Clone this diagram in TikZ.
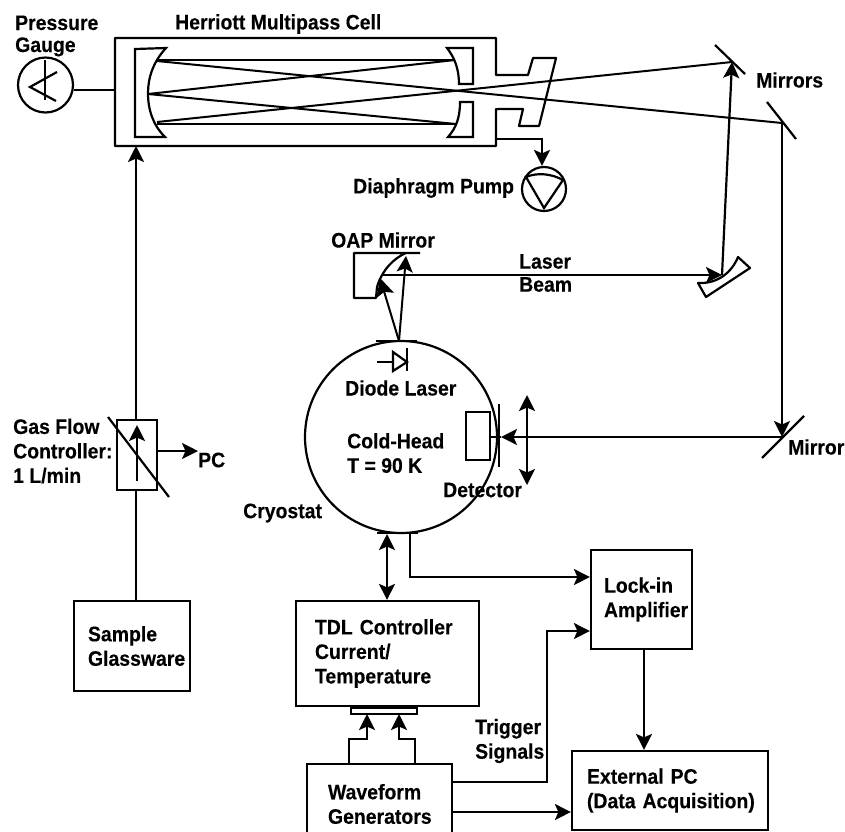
\documentclass[tikz,border=0pt]{standalone}
\usepackage{fontspec}
\setmainfont{Liberation Sans}[BoldFont={Liberation Sans Bold},FakeStretch=0.925,FakeBold=0.25]
\usetikzlibrary{arrows.meta,calc}
\tikzset{
  ln/.style={line width=2.2pt,line join=miter},
  beam/.style={line width=2pt},
  arr/.style={ln,-{Stealth[length=16pt,width=16pt,inset=3.5pt]}},
  darr/.style={ln,{Stealth[length=16pt,width=16pt,inset=3.5pt]}-{Stealth[length=16pt,width=16pt,inset=3.5pt]}},
  lab/.style={anchor=west,inner sep=0pt,align=left,font=\labfont},
  bx/.style n args={3}{draw,line width=2.2pt,minimum width=#1pt,minimum height=#2pt,inner ysep=0pt,inner xsep=#3pt,text width={#1pt-2*#3pt},align=left,font=\labfont,anchor=center}
}
\newcommand{\labfont}{\fontsize{21}{24.5}\selectfont\bfseries}
\begin{document}
\begin{tikzpicture}[x=1pt,y=-1pt]
\useasboundingbox (0,0) rectangle (845,831);
% boxes
\node[bx={116}{90}{14}] (glass) at (132,646) {Sample\\Glassware};
\node[bx={40}{70}{0}] (mfc) at (137,455) {};
\node[bx={183}{105}{19}] (tdl) at (387.5,653.5) {TDL Controller\\Current/\\Temperature};
\node[bx={66}{6}{0}] (conn) at (384,711) {};
\node[bx={145}{80}{21}] (wave) at (379.5,804) {Waveform\\Generators};
\node[bx={101}{99}{13}] (lock) at (641.5,599.5) {Lock-in\\Amplifier};
\node[bx={196}{79}{15}] (pc) at (670,790.5) {External PC\\\mbox{(Data Acquisition)}};
% gauge
\node[draw,circle,line width=2.2pt,minimum size=55pt,inner sep=0pt] (gauge) at (45.5,85) {};
\draw[ln] (57,72) -- (30,87) -- (56,101);
\draw[ln] (45,60) -- (45,100);
% cell
\coordinate (cellgas) at (136,146);
\coordinate (cellg) at (115,90);
\coordinate (cellp) at (497,139);
\draw[ln,line join=round] (496,38) -- (115,38) -- (115,146) -- (496,146) -- (496,109) -- (523,109) -- (519,126) -- (539,126) -- (556,58) -- (533,58) -- (528,75) -- (496,75) -- cycle;
\fill[white] (494,76.5) rectangle (498,107.5);
\draw[ln,fill=white] (135,49) -- (166,48) .. controls (153,62) and (148,78) .. (148,93) .. controls (148,110) and (153,125) .. (165,137) -- (135,137) -- cycle;
\draw[ln,fill=white] (447,48) -- (473,48) -- (473,84) -- (459,84) .. controls (459,70) and (455,58) .. cycle;
\draw[ln,fill=white] (460,102) -- (473,102) -- (473,137) -- (448,137) .. controls (456,128) and (460,118) .. cycle;
% mirrors
\coordinate (m1) at (732,62);
\coordinate (m2) at (782,123);
\coordinate (m3) at (782,437);
\draw[ln] (715,45) -- (745,74);
\draw[ln] (767,102) -- (796,139);
\draw[ln] (762,458) -- (804,416);
% multipass beams
\draw[beam] (157,60) -- (455,60);
\draw[beam] (157,124) -- (456,124);
\draw[beam] (148,94) -- (455,60);
\draw[beam] (148,94) -- (456,124);
\draw[beam] (157,61) -- (m2);
\draw[beam] (157,122) -- (m1);
% pump
\node[draw,circle,line width=2.2pt,minimum size=44pt,inner sep=0pt] (pump) at (544,189) {};
\draw[ln] (526,177) .. controls (538,172) and (552,174) .. (563,180) -- (544,208) -- cycle;
\draw[arr] (cellp) -- (542,139) -- (pump.north -| 542,0);
% OAP
\coordinate (oapc) at (406,256);
\coordinate (oapa) at (380,278);
\coordinate (oapb) at (383,275);
\draw[ln,line join=round] (420,253) -- (354,253) -- (354,298) -- (376,298) -- (377,287) .. controls (382,270) and (394,258) .. (406,253);
% second parabolic mirror
\draw[ln,line join=round] (698,283) .. controls (718,284) and (732,272) .. (738,257) -- (750,268) -- (706,297) -- cycle;
\coordinate (pm) at (722,275);
\draw[arr] (oapb) -- (pm);
\draw[arr] (pm) -- (m1);
% cryostat
\node[draw,circle,line width=2.2pt,minimum size=192pt,inner sep=0pt] (cryo) at (401,437) {};
\coordinate (ld) at (399,341);
\draw[line width=2.6pt] (376,341) -- (417,341);
\draw[beam,-{Stealth[length=16pt,width=16pt,inset=3.5pt]}] (ld) -- (oapc);
\draw[beam,-{Stealth[length=18pt,width=18pt,inset=3.5pt]}] (ld) -- (oapa);
% diode
\draw[ln] (377,362) -- (393,362);
\draw[ln] (393,352) -- (407,362) -- (393,371) -- cycle;
\draw[ln] (407,348) -- (407,371);
% detector
\node[draw,line width=2.2pt,fill=white,minimum width=24pt,minimum height=48pt,inner sep=0pt] (det) at (478,436) {};
\draw[ln] (499,404) -- (499,467);
\coordinate (dett) at (501,437);
\draw[ln] (det.east |- dett) -- (dett);
\draw[arr] (m2) -- (m3);
\draw[arr] (m3) -- (dett);
\coordinate (lt) at (527,395);
\coordinate (lb) at (527,485);
\draw[darr] (lt) -- (lb);
% bottom connectors
\draw[line width=2.6pt] (377,533) -- (418,533);
\coordinate (cb1) at (387,534);
\coordinate (cb2) at (410,534);
\draw[darr] (cb1) -- (cb1 |- tdl.north);
\draw[arr] (cb2) -- (410,577) -- (lock.west |- 0,577);
\draw[arr] (wave.east |- 0,782) -- (547,782) -- (547,631) -- (lock.west |- 0,631);
\draw[arr] (wave.east |- 0,812) -- (pc.west |- 0,812);
\draw[arr] (lock.south -| 644,0) -- (pc.north -| 644,0);
\draw[arr] (349,764) -- (349,739) -- (367,739) -- (367,714);
\draw[arr] (415,764) -- (415,739) -- (399,739) -- (399,714);
% left side
\draw[ln] (gauge.east |- cellg) -- (cellg);
\draw[ln] (glass.north -| cellgas) -- (cellgas |- mfc.south);
\draw[arr] (mfc.north -| cellgas) -- (cellgas);
\draw[arr] (137,481) -- (137,425);
\draw[ln] (108,417) -- (169,497);
\node[lab] (pclab) at (198,460) {PC};
\draw[arr] (mfc.east |- 0,451) -- (pclab.north west |- 0,451);
% labels
\node[lab,font=\fontsize{21}{22}\selectfont\bfseries] (lpg) at (15,36) {Pressure\\Gauge};
\node[lab] (lhc) at (175,24) {Herriott Multipass Cell};
\node[lab] (lmi) at (756,80) {Mirrors};
\node[lab] (ldp) at (353,188) {Diaphragm Pump};
\node[lab] (loap) at (331,240) {OAP Mirror};
\node[lab,font=\fontsize{21}{23}\selectfont\bfseries] (llb) at (519,273) {Laser\\Beam};
\node[lab] (ldl) at (345,388) {Diode Laser};
\node[lab] (lch) at (347,453) {Cold-Head\\T = 90 K};
\node[lab] (ldt) at (443,490) {Detector};
\node[lab] (lcr) at (243,513) {Cryostat};
\node[lab] (lgf) at (13,451) {Gas Flow\\Controller:\\1 L/min};
\node[lab] (lm) at (788,447) {Mirror};
\node[lab] (ltr) at (475,741) {Trigger\\Signals};
\end{tikzpicture}
\end{document}
